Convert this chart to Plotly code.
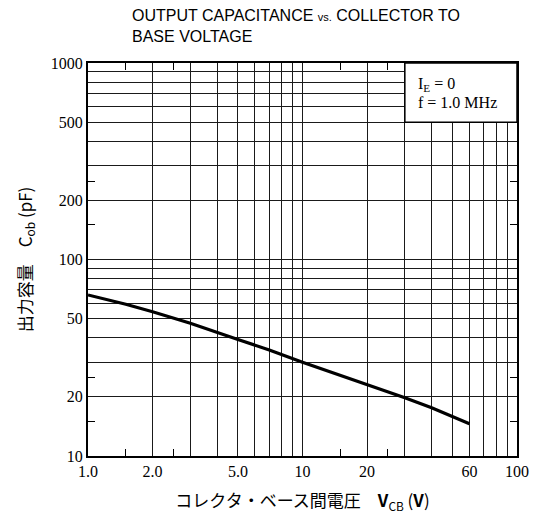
import plotly.graph_objects as go

# Output capacitance vs. collector-base voltage (IE = 0, f = 1.0 MHz)
v_cb = [1.0, 1.5, 2.0, 3.0, 5.0, 7.0, 10, 15, 20, 30, 40, 60]
c_ob = [66, 59.2, 54.2, 47.4, 39.2, 34.6, 30.0, 25.8, 23.1, 19.8, 17.6, 14.6]

# Grid / tick definitions
x_grid = [1, 2, 3, 4, 5, 6, 7, 8, 9, 10, 20, 30, 40, 50, 60, 70, 80, 90, 100]
x_labels = {1: "1.0", 2: "2.0", 5: "5.0", 10: "10", 20: "20", 60: "60", 100: "100"}
x_minor = [1.5, 2.5, 15, 25]

y_grid = [10, 20, 30, 40, 50, 60, 70, 80, 90, 100,
          200, 300, 400, 500, 600, 700, 800, 900, 1000]
y_labels = {10: "10", 20: "20", 50: "50", 100: "100", 200: "200", 500: "500", 1000: "1000"}
y_minor = [15, 25, 150, 250]

# Condition box corners (V, pF)
box_x = [30, 100]
box_y = [500, 1000]

SERIF = "Liberation Serif, Times New Roman, serif"
CJK = "Noto Sans CJK JP, sans-serif"

fig = go.Figure()
fig.add_trace(go.Scatter(
    x=v_cb, y=c_ob, mode="lines",
    line=dict(color="black", width=3.2),
    showlegend=False, hoverinfo="skip",
))

axis_common = dict(
    type="log",
    showgrid=True, gridcolor="#1a1a1a", gridwidth=1,
    showline=True, linecolor="black", linewidth=2, mirror="allticks",
    ticks="inside", ticklen=0, tickcolor="black",
    zeroline=False, automargin=False,
    tickfont=dict(family=SERIF, size=16, color="black"),
)

fig.update_layout(
    width=536, height=516,
    margin=dict(l=88, r=19, t=63, b=60),
    paper_bgcolor="white", plot_bgcolor="white",
    xaxis=dict(
        axis_common,
        range=[0, 2],
        tickmode="array", tickvals=x_grid,
        ticktext=[x_labels.get(v, "") for v in x_grid],
        minor=dict(tickmode="array", tickvals=x_minor, ticks="inside",
                   ticklen=7, tickcolor="black", tickwidth=1, showgrid=False),
        title=dict(text="コレクタ・ベース間電圧　<b>V</b><sub>CB</sub> (<b>V</b>)",
                   font=dict(family=CJK, size=17, color="black"), standoff=16),
    ),
    yaxis=dict(
        axis_common,
        range=[1, 3],
        tickmode="array", tickvals=y_grid,
        ticktext=[y_labels.get(v, "") for v in y_grid],
        minor=dict(tickmode="array", tickvals=y_minor, ticks="inside",
                   ticklen=7, tickcolor="black", tickwidth=1, showgrid=False),
        title=dict(text="出力容量　C<sub>ob</sub> (pF)",
                   font=dict(family=CJK, size=17, color="black"), standoff=14),
    ),
)

# Measurement-condition box in the upper right corner
fig.add_shape(type="rect", xref="x", yref="y",
              x0=box_x[0], x1=box_x[1], y0=box_y[0], y1=box_y[1],
              fillcolor="white", line=dict(color="black", width=1.5), layer="above")
fig.add_annotation(
    xref="paper", yref="paper", x=0.765, y=0.946, xanchor="left", yanchor="middle",
    text="I<sub>E</sub> = 0", showarrow=False,
    font=dict(family=SERIF, size=16, color="black"),
)
fig.add_annotation(
    xref="paper", yref="paper", x=0.765, y=0.9, xanchor="left", yanchor="middle",
    text="f = 1.0 MHz", showarrow=False,
    font=dict(family=SERIF, size=16, color="black"),
)

# Chart title
fig.add_annotation(
    xref="paper", yref="paper", x=0.098, y=1.0, yshift=16,
    xanchor="left", yanchor="bottom", align="left", showarrow=False,
    text="OUTPUT CAPACITANCE <span style='font-size:11px'>vs.</span> COLLECTOR TO<br>BASE VOLTAGE",
    font=dict(family="Liberation Sans, Arial, sans-serif", size=16, color="black"),
)

fig.write_html("out.html")
